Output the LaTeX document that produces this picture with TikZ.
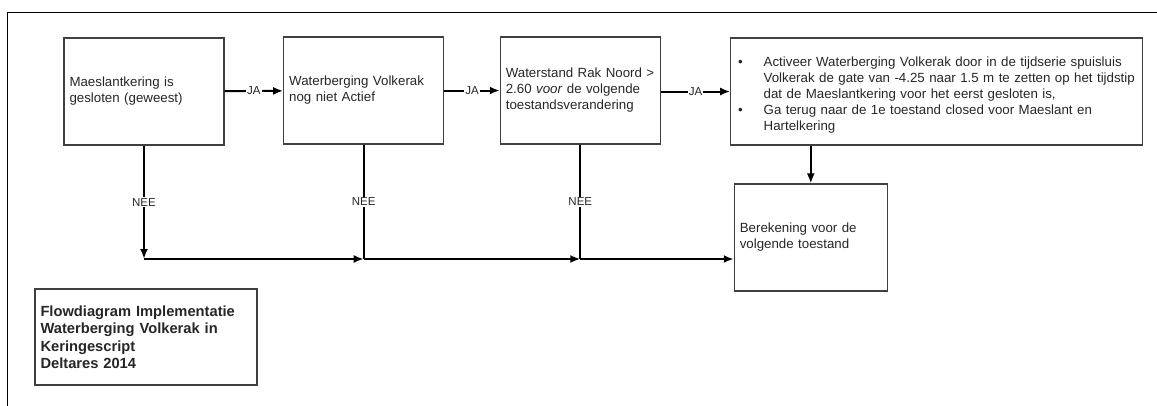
\documentclass[tikz,border=0pt]{standalone}
\usepackage{fontspec}
\setmainfont{Liberation Sans}
\usetikzlibrary{arrows.meta}

% bullet with hanging indent for the action box
\newcommand{\punt}{\par\hangindent=27.5pt\hangafter=1\noindent\makebox[27.5pt][l]{\hspace{2pt}\textbullet}}

\tikzset{
	proc/.style={draw=black!75, line width=1.1pt, minimum height=107pt, inner xsep=5.5pt, inner ysep=0pt, align=left, text=black!85, font=\fontsize{13.3}{16}\selectfont},
	flow/.style={line width=2pt, -{Latex[length=10pt,width=8pt]}},
	lijn/.style={line width=2pt},
	lbl/.style={fill=white, inner sep=1pt, text=black!85, font=\fontsize{11.5}{13}\selectfont},
}

\begin{document}
\begin{tikzpicture}[x=1pt, y=-1pt]
		\useasboundingbox (0,0) rectangle (1157,405);
		\clip (0,0) rectangle (1157,405);

		% Draw the outer frame
		\draw[line width=1.5pt] (7.3,12.3) rectangle (1200,450);

		% Draw the decision boxes
		\node[proc, text width=149pt] (maeslant) at (144,91.5) {Maeslantkering is\\gesloten (geweest)};
		\node[proc, text width=149pt] (volkerak) at (363.7,90.5) {Waterberging Volkerak\\nog niet Actief};
		\node[proc, text width=149pt] (waterstand) at (580.3,90.5) {Waterstand Rak Noord >\\2.60 \textit{voor} de volgende\\toestandsverandering};

		% Draw the action box
		\node[proc, text width=401pt] (activeer) at (936.7,91.5) {%
			\punt Activeer Waterberging Volkerak door in de tijdserie spuisluis\newline Volkerak de gate van -4.25 naar 1.5 m te zetten op het tijdstip\newline dat de Maeslantkering voor het eerst gesloten is,
			\punt Ga terug naar de 1e toestand closed voor Maeslant en\newline Hartelkering\par};

		\node[proc, text width=142pt] (berekening) at (810.8,237.5) {Berekening voor de\\volgende toestand};

		% Draw the title box
		\node[proc, minimum height=96pt, text width=211pt, font=\bfseries\fontsize{14.7}{17.5}\selectfont] (titel) at (146,337) {Flowdiagram Implementatie\\Waterberging Volkerak in\\Keringescript\\Deltares 2014};

		% Draw the JA connectors
		\draw[flow] (maeslant) -- node[lbl]{JA} (volkerak);
		\draw[flow] (volkerak) -- node[lbl]{JA} (waterstand);
		\draw[flow] (waterstand.east |- activeer.west) -- node[lbl]{JA} (activeer.west);
		\draw[flow] (berekening.north |- activeer.south) -- (berekening.north);

		% Draw the NEE connectors
		\coordinate (nee1) at (144,259);
		\coordinate (nee2) at (363.7,259);
		\coordinate (nee3) at (580.3,259);
		\draw[flow] (maeslant.south) -- node[lbl]{NEE} (nee1);
		\draw[lijn] (volkerak.south) -- node[lbl]{NEE} (nee2);
		\draw[lijn] (waterstand.south) -- node[lbl]{NEE} (nee3);
		\draw[flow] (nee1) -- (nee2);
		\draw[flow] (nee2) -- (nee3);
		\draw[flow] (nee3) -- (berekening.west |- nee3);

	\end{tikzpicture}
\end{document}
